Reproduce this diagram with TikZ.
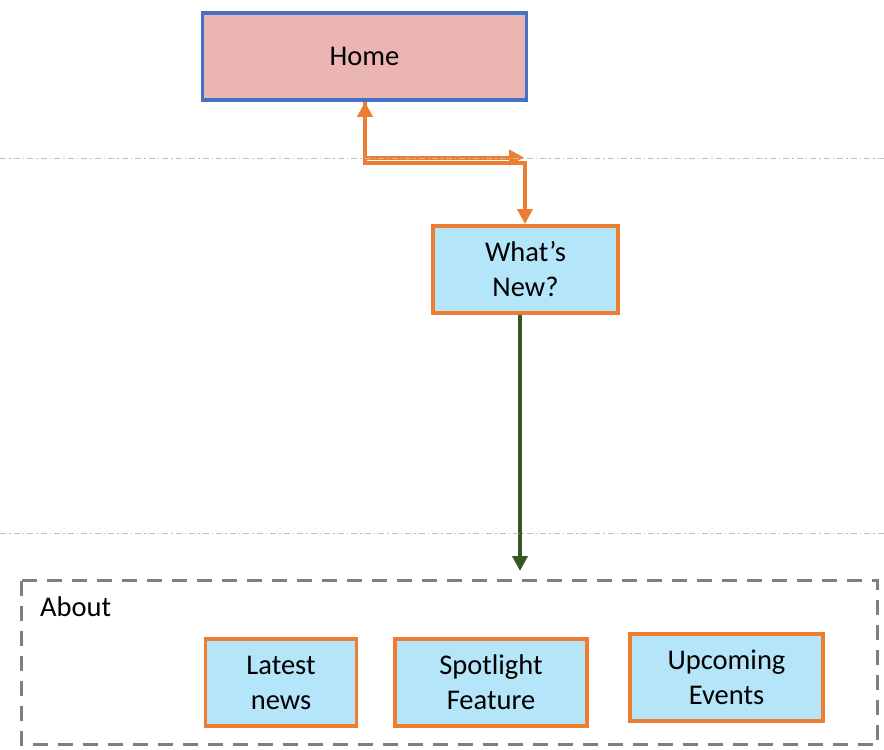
\documentclass[tikz,border=0pt]{standalone}
\usepackage{fontspec}
\setmainfont{Carlito}
\usetikzlibrary{arrows.meta}
\definecolor{homefill}{HTML}{EBB5B3}
\definecolor{homeedge}{HTML}{4472C4}
\definecolor{pagefill}{HTML}{B4E5F8}
\definecolor{pageedge}{HTML}{ED7D31}
\definecolor{flowgreen}{HTML}{375623}
\definecolor{groupgray}{HTML}{7F7F7F}
\definecolor{levelgray}{HTML}{BFBFBF}
\begin{document}
\begin{tikzpicture}[x=1pt,y=-1pt,
  every node/.style={font=\fontsize{28.5}{35}\selectfont, align=center, inner sep=0pt},
  homebox/.style={draw=homeedge, fill=homefill, line width=3.8pt},
  pagebox/.style={draw=pageedge, fill=pagefill, line width=3.8pt},
  grouplabel/.style={anchor=west},
  orangeconn/.style={draw=pageedge, line width=4pt, arrows={-Triangle[length=15pt,width=15pt]}},
  greenconn/.style={draw=flowgreen, line width=4pt, arrows={-Triangle[length=15pt,width=15pt]}},
  levelline/.style={draw=levelgray, line width=1pt, dash pattern=on 6pt off 3pt on 1.5pt off 3pt},
  groupbox/.style={draw=groupgray, line width=3.8pt, dash pattern=on 15pt off 10pt}
]
\useasboundingbox (0,0) rectangle (884,750);

% group box
\draw[groupbox] (21.5,580.5) rectangle (877.5,744.5);
\node[grouplabel] (about) at (40,607) {About};

% nodes
\node[homebox, minimum width=324pt, minimum height=87pt] (home) at (364.5,56.5) {Home};
\node[pagebox, minimum width=185pt, minimum height=87pt] (whatsnew) at (525.5,269.5) {What’s\\New?};
\node[pagebox, minimum width=151pt, minimum height=87pt] (latest) at (281,682.5) {Latest\\news};
\node[pagebox, minimum width=192pt, minimum height=87pt] (spotlight) at (491,682.5) {Spotlight\\Feature};
\node[pagebox, minimum width=193pt, minimum height=87pt] (upcoming) at (726.5,677.5) {Upcoming\\Events};

% connectors
\coordinate (bendA) at (365,157.5);
\coordinate (endA) at (524,157.5);
\coordinate (bendB) at (365,163);
\coordinate (bendC) at (525,163);
\draw[orangeconn, arrows={Triangle[length=15pt,width=15pt]-Triangle[length=15pt,width=15pt]}]
  ([xshift=0.5pt]home.south) -- (bendA) -- (endA);
\draw[orangeconn] (home.south -| bendB) -- (bendB) -- (bendC) -- (whatsnew.north -| bendC);
\draw[greenconn] (whatsnew.south -| 520,0) -- (520,571);

% level lines
\draw[levelline] (0,158) -- (884,158);
\draw[levelline] (0,533) -- (884,533);
\end{tikzpicture}
\end{document}
